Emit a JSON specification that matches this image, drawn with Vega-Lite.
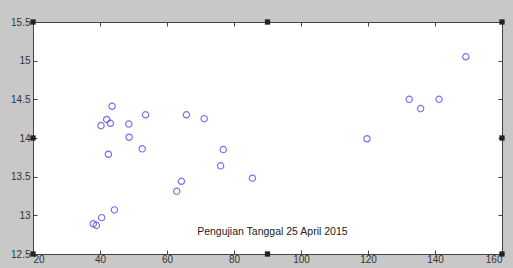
{
  "$schema": "https://vega.github.io/schema/vega-lite/v6.json",
  "autosize": "none",
  "width": 469,
  "height": 232,
  "padding": {"left": 33, "top": 22, "right": 11, "bottom": 14},
  "background": "#c8c8c8",
  "config": {
    "view": {"fill": "white", "stroke": "#444444", "strokeWidth": 1},
    "axis": {"labelFont": "Liberation Sans", "labelFontSize": 10, "labelColor": "#333333", "domain": false, "grid": false, "tickColor": "#444444", "title": null}
  },
  "datasets": {
    "pts": [
      {"x": 40.3, "y": 14.16}, {"x": 42.0, "y": 14.24}, {"x": 43.1, "y": 14.19}, {"x": 43.6, "y": 14.41},
      {"x": 48.6, "y": 14.18}, {"x": 53.6, "y": 14.30}, {"x": 65.8, "y": 14.30}, {"x": 71.1, "y": 14.25},
      {"x": 149.2, "y": 15.05}, {"x": 132.3, "y": 14.50}, {"x": 135.7, "y": 14.38}, {"x": 141.2, "y": 14.50},
      {"x": 48.7, "y": 14.01}, {"x": 52.6, "y": 13.86}, {"x": 42.5, "y": 13.79}, {"x": 76.8, "y": 13.85},
      {"x": 76.0, "y": 13.64}, {"x": 64.3, "y": 13.44}, {"x": 62.9, "y": 13.31}, {"x": 85.5, "y": 13.48},
      {"x": 44.3, "y": 13.07}, {"x": 40.5, "y": 12.97}, {"x": 38.0, "y": 12.89}, {"x": 38.9, "y": 12.87},
      {"x": 119.7, "y": 13.99}
    ],
    "handles": [
      {"x": 20, "y": 15.5}, {"x": 90, "y": 15.5}, {"x": 160, "y": 15.5}, {"x": 20, "y": 14},
      {"x": 160, "y": 14}, {"x": 20, "y": 12.5}, {"x": 90, "y": 12.5}, {"x": 160, "y": 12.5}
    ],
    "note": [{"x": 69, "y": 12.79, "label": "Pengujian Tanggal 25 April 2015"}]
  },
  "layer": [
    {
      "data": {"name": "pts"},
      "mark": {"type": "point", "shape": "circle", "filled": false, "stroke": "#3a3ae8", "strokeWidth": 1.2, "size": 40},
      "encoding": {
        "x": {"field": "x", "type": "quantitative", "scale": {"domain": [20, 160], "nice": false, "zero": false},
          "axis": {"orient": "bottom", "values": [20, 40, 60, 80, 100, 120, 140, 160], "tickSize": -4, "labelPadding": 4}},
        "y": {"field": "y", "type": "quantitative", "scale": {"domain": [12.5, 15.5], "nice": false, "zero": false},
          "axis": {"orient": "left", "values": [12.5, 13, 13.5, 14, 14.5, 15, 15.5], "tickSize": -4, "labelPadding": 7, "format": "~g"}}
      }
    },
    {
      "data": {"name": "handles"},
      "mark": {"type": "square", "filled": true, "color": "#222222", "size": 28, "opacity": 1},
      "encoding": {
        "x": {"field": "x", "type": "quantitative",
          "axis": {"orient": "top", "values": [20, 40, 60, 80, 100, 120, 140, 160], "tickSize": -4, "labels": false}},
        "y": {"field": "y", "type": "quantitative",
          "axis": {"orient": "right", "values": [12.5, 13, 13.5, 14, 14.5, 15, 15.5], "tickSize": -4, "labels": false}}
      }
    },
    {
      "data": {"name": "note"},
      "mark": {"type": "text", "align": "left", "baseline": "middle", "font": "Liberation Sans", "fontSize": 10.5, "color": "#222222"},
      "encoding": {
        "x": {"field": "x", "type": "quantitative", "axis": null},
        "y": {"field": "y", "type": "quantitative", "axis": null},
        "text": {"field": "label"}
      }
    }
  ],
  "resolve": {"axis": {"x": "independent", "y": "independent"}}
}
